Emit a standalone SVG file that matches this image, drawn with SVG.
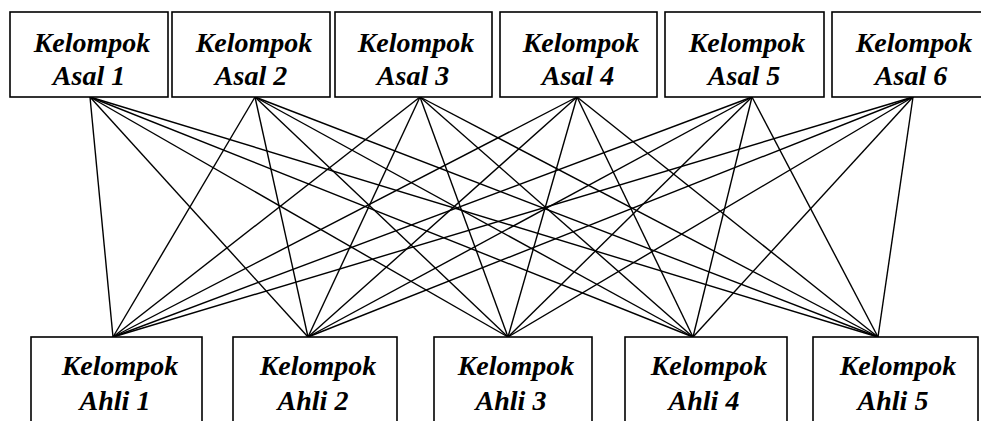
<svg xmlns="http://www.w3.org/2000/svg" width="981" height="421" viewBox="0 0 981 421">
<style>
.box{fill:#fff;stroke:#000;stroke-width:1.6}
.lbl{font-family:"Liberation Serif","DejaVu Serif",serif;font-style:italic;font-weight:bold;font-size:28px;fill:#000;text-anchor:middle}
.con line{stroke:#000;stroke-width:1.4}
</style>
<rect width="981" height="421" fill="#fff"/>
<g id="connectors" class="con">
<line x1="90" y1="97" x2="113" y2="337"/><line x1="90" y1="97" x2="308" y2="337"/><line x1="90" y1="97" x2="508" y2="337"/><line x1="90" y1="97" x2="693" y2="337"/><line x1="90" y1="97" x2="878" y2="337"/>
<line x1="255" y1="97" x2="113" y2="337"/><line x1="255" y1="97" x2="308" y2="337"/><line x1="255" y1="97" x2="508" y2="337"/><line x1="255" y1="97" x2="693" y2="337"/><line x1="255" y1="97" x2="878" y2="337"/>
<line x1="420" y1="97" x2="113" y2="337"/><line x1="420" y1="97" x2="308" y2="337"/><line x1="420" y1="97" x2="508" y2="337"/><line x1="420" y1="97" x2="693" y2="337"/><line x1="420" y1="97" x2="878" y2="337"/>
<line x1="577" y1="97" x2="113" y2="337"/><line x1="577" y1="97" x2="308" y2="337"/><line x1="577" y1="97" x2="508" y2="337"/><line x1="577" y1="97" x2="693" y2="337"/><line x1="577" y1="97" x2="878" y2="337"/>
<line x1="752" y1="97" x2="113" y2="337"/><line x1="752" y1="97" x2="308" y2="337"/><line x1="752" y1="97" x2="508" y2="337"/><line x1="752" y1="97" x2="693" y2="337"/><line x1="752" y1="97" x2="878" y2="337"/>
<line x1="913" y1="97" x2="113" y2="337"/><line x1="913" y1="97" x2="308" y2="337"/><line x1="913" y1="97" x2="508" y2="337"/><line x1="913" y1="97" x2="693" y2="337"/><line x1="913" y1="97" x2="878" y2="337"/>
</g>
<g id="asal1"><rect class="box" x="10" y="12" width="158" height="85"/><text class="lbl" x="92" y="52">Kelompok</text><text class="lbl" x="89" y="85">Asal 1</text></g>
<g id="asal2"><rect class="box" x="172" y="12" width="158" height="85"/><text class="lbl" x="254" y="52">Kelompok</text><text class="lbl" x="251" y="85">Asal 2</text></g>
<g id="asal3"><rect class="box" x="335" y="12" width="157" height="85"/><text class="lbl" x="416" y="52">Kelompok</text><text class="lbl" x="413" y="85">Asal 3</text></g>
<g id="asal4"><rect class="box" x="500" y="12" width="157" height="85"/><text class="lbl" x="581" y="52">Kelompok</text><text class="lbl" x="578" y="85">Asal 4</text></g>
<g id="asal5"><rect class="box" x="665" y="12" width="159" height="85"/><text class="lbl" x="747" y="52">Kelompok</text><text class="lbl" x="744" y="85">Asal 5</text></g>
<g id="asal6"><rect class="box" x="832" y="12" width="160" height="85"/><text class="lbl" x="914" y="52">Kelompok</text><text class="lbl" x="911" y="85">Asal 6</text></g>
<g id="ahli1"><rect class="box" x="31" y="337" width="171" height="95"/><text class="lbl" x="120" y="375">Kelompok</text><text class="lbl" x="115" y="410">Ahli 1</text></g>
<g id="ahli2"><rect class="box" x="233" y="337" width="164" height="95"/><text class="lbl" x="318" y="375">Kelompok</text><text class="lbl" x="313" y="410">Ahli 2</text></g>
<g id="ahli3"><rect class="box" x="434" y="337" width="158" height="95"/><text class="lbl" x="516" y="375">Kelompok</text><text class="lbl" x="511" y="410">Ahli 3</text></g>
<g id="ahli4"><rect class="box" x="625" y="337" width="162" height="95"/><text class="lbl" x="709" y="375">Kelompok</text><text class="lbl" x="704" y="410">Ahli 4</text></g>
<g id="ahli5"><rect class="box" x="813" y="337" width="165" height="95"/><text class="lbl" x="898" y="375">Kelompok</text><text class="lbl" x="893" y="410">Ahli 5</text></g>
</svg>
